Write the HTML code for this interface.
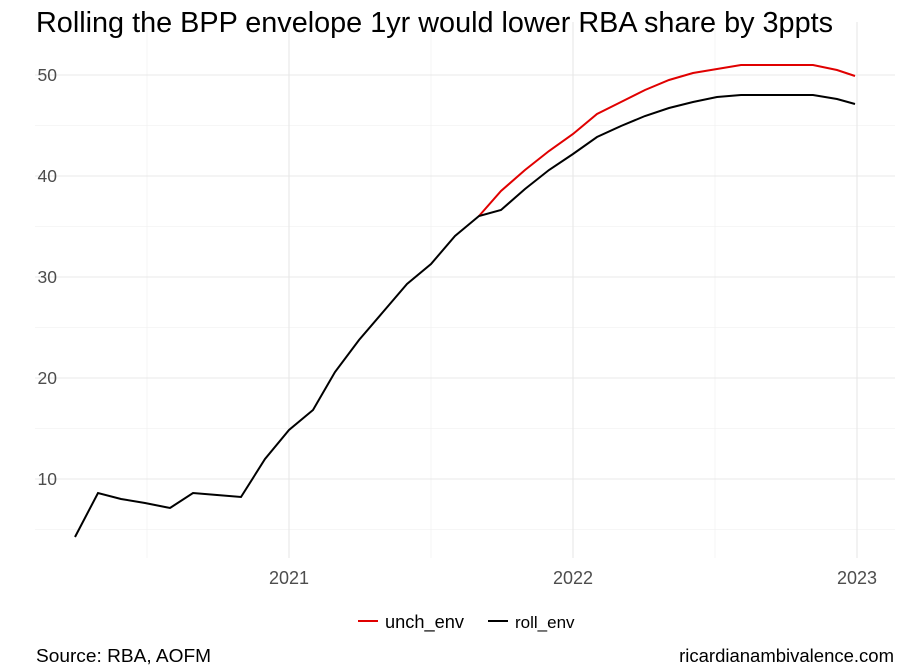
<!DOCTYPE html>
<html><head><meta charset="utf-8"><style>
body{margin:0;background:#fff;}
svg{display:block;font-family:"Liberation Sans",sans-serif;}
</style></head><body>
<svg width="903" height="672" viewBox="0 0 903 672" xmlns="http://www.w3.org/2000/svg">
<rect width="903" height="672" fill="#fff"/>
<g stroke="#f3f3f3" stroke-width="0.8">
<line x1="35" x2="895" y1="125.5" y2="125.5"/><line x1="35" x2="895" y1="226.5" y2="226.5"/>
<line x1="35" x2="895" y1="327.5" y2="327.5"/><line x1="35" x2="895" y1="428.5" y2="428.5"/>
<line x1="35" x2="895" y1="529.5" y2="529.5"/>
<line x1="147" x2="147" y1="22" y2="558"/><line x1="431" x2="431" y1="22" y2="558"/><line x1="715" x2="715" y1="22" y2="558"/>
</g>
<g stroke="#e8e8e8" stroke-width="1.1">
<line x1="35" x2="895" y1="75" y2="75"/><line x1="35" x2="895" y1="176" y2="176"/>
<line x1="35" x2="895" y1="277" y2="277"/><line x1="35" x2="895" y1="378" y2="378"/>
<line x1="35" x2="895" y1="479" y2="479"/>
<line x1="289" x2="289" y1="22" y2="558"/><line x1="573" x2="573" y1="22" y2="558"/><line x1="857" x2="857" y1="22" y2="558"/>
</g>
<g fill="#4d4d4d" font-size="17.5" text-anchor="end">
<text x="57" y="81">50</text><text x="57" y="182">40</text><text x="57" y="283">30</text><text x="57" y="384">20</text><text x="57" y="485">10</text>
</g>
<g fill="#4d4d4d" font-size="18" text-anchor="middle">
<text x="289" y="584">2021</text><text x="573" y="584">2022</text><text x="857" y="584">2023</text>
</g>
<polyline fill="none" stroke="#e00000" stroke-width="2" points="479,216 501,191 525,170 549,151 573,134 597,114 621,102 645,90 669,80 693,73 717,69 741,65 765,65 789,65 813,65 837,70 855,76"/>
<polyline fill="none" stroke="#000" stroke-width="2" points="75,537 98,493 121,499 145,503 170,508 193,493 217,495 241,497 265,459 289,430 313,410 335,372 359,340 383,312 407,284 431,264 455,236 479,216 501,210 525,189 549,170 573,154 597,137 621,126 645,116 669,108 693,102 717,97 741,95 765,95 789,95 813,95 837,99 855,104"/>
<text x="36" y="32" font-size="28.8" fill="#000" textLength="797" lengthAdjust="spacingAndGlyphs">Rolling the BPP envelope 1yr would lower RBA share by 3ppts</text>
<line x1="358" x2="378" y1="621" y2="621" stroke="#e00000" stroke-width="2"/>
<text x="385" y="628" font-size="18" fill="#000" textLength="79" lengthAdjust="spacingAndGlyphs">unch_env</text>
<line x1="488" x2="508" y1="621" y2="621" stroke="#000" stroke-width="2"/>
<text x="515" y="628" font-size="17" fill="#000">roll_env</text>
<text x="36" y="662" font-size="18.5" fill="#000" textLength="175" lengthAdjust="spacingAndGlyphs">Source: RBA, AOFM</text>
<text x="894" y="662" font-size="18.5" fill="#000" text-anchor="end">ricardianambivalence.com</text>
</svg>
</body></html>
